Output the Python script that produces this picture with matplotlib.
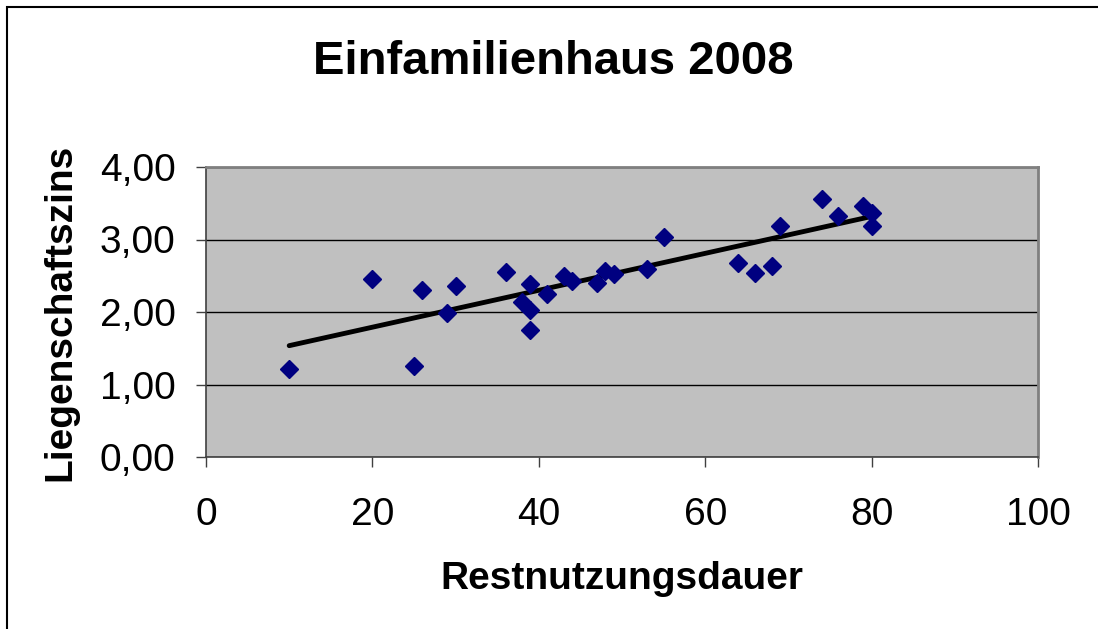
import matplotlib.pyplot as plt
import numpy as np
from matplotlib.patches import Rectangle
from matplotlib.ticker import FuncFormatter

plt.rcParams['font.family'] = ['Liberation Sans', 'DejaVu Sans']

# Restnutzungsdauer (years) vs Liegenschaftszins (%)
restnutzung = [10, 20, 25, 26, 29, 30, 36, 38, 39, 39, 39, 41, 43, 44,
               47, 48, 49, 53, 55, 64, 66, 68, 69, 74, 76, 79, 80, 80]
zins = [1.22, 2.46, 1.26, 2.31, 1.98, 2.36, 2.55, 2.14, 2.39, 2.03, 1.75,
        2.25, 2.50, 2.43, 2.40, 2.56, 2.53, 2.60, 3.04, 2.67, 2.54, 2.64,
        3.18, 3.56, 3.32, 3.46, 3.37, 3.18]

title = "Einfamilienhaus 2008"
xlab = "Restnutzungsdauer"
ylab = "Liegenschaftszins"

fig = plt.figure(figsize=(10.98, 6.29), dpi=100)
ax = fig.add_axes([206 / 1098, 1 - 457 / 629, (1038 - 206) / 1098, (457 - 167) / 629])
ax.set_facecolor("#c0c0c0")

x = np.array(restnutzung)
y = np.array(zins)
m, b = np.polyfit(x, y, 1)
xl = np.array([x.min(), x.max()])
ax.plot(xl, m * xl + b, color="black", lw=3.5, zorder=3, solid_capstyle="round")
ax.plot(x, y, linestyle="none", marker="D", markersize=9, color="#000080", zorder=4)

ax.set_xlim(0, 100)
ax.set_ylim(0, 4)
ax.set_xticks(np.arange(0, 101, 20))
ax.set_yticks(np.arange(0, 4.01, 1))
ax.yaxis.set_major_formatter(FuncFormatter(lambda v, p: f"{v:.2f}".replace(".", ",")))
ax.grid(axis="y", color="black", lw=1)
ax.set_axisbelow(True)
ax.tick_params(labelsize=28, length=7, width=1, color="#404040")
ax.tick_params(axis="x", pad=22)
ax.tick_params(axis="y", pad=15)

for s in ["top", "right"]:
    ax.spines[s].set_color("#808080")
    ax.spines[s].set_linewidth(2)
for s in ["left", "bottom"]:
    ax.spines[s].set_color("#404040")
    ax.spines[s].set_linewidth(1.2)

fig.text(553 / 1098, 1 - 62 / 629, title, ha="center", va="center",
         fontsize=34, fontweight="bold")
fig.text(622 / 1098, 1 - 579 / 629, xlab, ha="center", va="center",
         fontsize=28, fontweight="bold")
fig.text(60 / 1098, 1 - 312 / 629, ylab, ha="center", va="center",
         fontsize=28, fontweight="bold", rotation=90)

# outer chart frame
fig.patches.append(Rectangle((7 / 1098, -0.02), 1.05, 1 - 7 / 629 + 0.02,
                             transform=fig.transFigure, fill=False,
                             edgecolor="black", lw=1.5))

fig.savefig("out.png", dpi=100)
